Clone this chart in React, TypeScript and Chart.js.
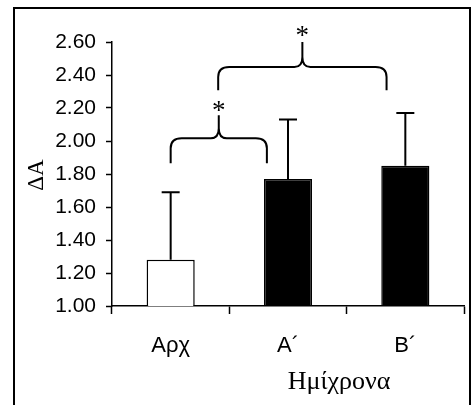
import React, { useEffect, useRef } from "react";
import { Chart, registerables } from "chart.js";

Chart.register(...registerables);

// ---- data ----
const categories = ["Αρχ", "Α´", "Β´"];
const means = [1.28, 1.77, 1.85];
const sds = [0.41, 0.36, 0.32];
const barFills = ["#ffffff", "#000000", "#000000"];
const yMin = 1.0;
const yMax = 2.6;
const yStep = 0.2;
const xTitle = "Ημίχρονα";
const yTitle = "ΔΑ";
// significance braces (category-index and value units)
const braceStart = [0, 0.405];
const braceEnd = [0.82, 1.84];
const braceFoot = [1.865, 2.307];
const braceBar = [2.016, 2.448];
const braceTip = [2.156, 2.6];
const braceMarkAt = [2.215, 2.665];
const braceMarks = ["*", "*"];

const overlayPlugin = {
  id: "overlay",
  afterDatasetsDraw(chart: any) {
    const ctx: CanvasRenderingContext2D = chart.ctx;
    const xs = chart.scales.x;
    const ys = chart.scales.y;
    const meta = chart.getDatasetMeta(0);
    ctx.save();
    ctx.strokeStyle = "#000";
    ctx.lineWidth = 2;
    // error bars
    meta.data.forEach((el: any, i: number) => {
      const x = el.x;
      const yTop = ys.getPixelForValue(means[i] + sds[i]);
      ctx.beginPath();
      ctx.moveTo(x, el.y);
      ctx.lineTo(x, yTop);
      ctx.moveTo(x - 9, yTop);
      ctx.lineTo(x + 9, yTop);
      ctx.stroke();
    });
    // braces
    const p0 = xs.getPixelForValue(0);
    const step = xs.getPixelForValue(1) - p0;
    const px = (v: number) => p0 + v * step;
    braceStart.forEach((s, i) => {
      const x0 = px(s);
      const x1 = px(braceEnd[i]);
      const xm = (x0 + x1) / 2;
      const yF = ys.getPixelForValue(braceFoot[i]);
      const yB = ys.getPixelForValue(braceBar[i]);
      const yT = ys.getPixelForValue(braceTip[i]);
      ctx.beginPath();
      ctx.moveTo(x0, yF);
      ctx.lineTo(x0, yB + 10);
      ctx.quadraticCurveTo(x0, yB, x0 + 11, yB);
      ctx.lineTo(xm - 8, yB);
      ctx.quadraticCurveTo(xm, yB, xm, yB - 10);
      ctx.lineTo(xm, yT);
      ctx.moveTo(xm, yB - 10);
      ctx.quadraticCurveTo(xm, yB, xm + 8, yB);
      ctx.lineTo(x1 - 11, yB);
      ctx.quadraticCurveTo(x1, yB, x1, yB + 10);
      ctx.lineTo(x1, yF);
      ctx.stroke();
      ctx.fillStyle = "#000";
      ctx.font = "27px 'Liberation Serif'";
      ctx.textAlign = "center";
      ctx.textBaseline = "middle";
      ctx.fillText(braceMarks[i], xm, ys.getPixelForValue(braceMarkAt[i]) + 6);
    });
    // axis titles
    ctx.fillStyle = "#000";
    ctx.font = "26px 'Liberation Serif'";
    ctx.textAlign = "center";
    ctx.textBaseline = "alphabetic";
    ctx.fillText(xTitle, 339, 389);
    ctx.save();
    ctx.translate(43, 175);
    ctx.rotate(-Math.PI / 2);
    ctx.font = "23px 'Liberation Serif'";
    ctx.fillText(yTitle, 0, 0);
    ctx.restore();
    // frame
    ctx.lineWidth = 2;
    ctx.beginPath();
    ctx.moveTo(14, 420);
    ctx.lineTo(14, 8);
    ctx.lineTo(470, 8);
    ctx.lineTo(470, 420);
    ctx.stroke();
    ctx.restore();
  },
};

export default function App() {
  const ref = useRef<HTMLCanvasElement | null>(null);
  useEffect(() => {
    if (!ref.current) return;
    const chart = new Chart(ref.current, {
      type: "bar",
      data: {
        labels: categories,
        datasets: [
          {
            data: means,
            backgroundColor: barFills,
            borderColor: "#000",
            borderWidth: 1.5,
            categoryPercentage: 1,
            barPercentage: 0.41,
          },
        ],
      },
      options: {
        animation: false,
        responsive: true,
        maintainAspectRatio: false,
        layout: { padding: { top: 42, right: 8, left: 0, bottom: 0 } },
        plugins: { legend: { display: false }, tooltip: { enabled: false } },
        scales: {
          x: {
            grid: {
              display: true,
              drawOnChartArea: false,
              drawTicks: true,
              tickLength: 8,
              tickWidth: 1.5,
              tickColor: "#000",
              offset: true,
            },
            border: { display: true, color: "#000", width: 1.5 },
            ticks: {
              color: "#000",
              font: { family: "'Liberation Sans'", size: 22 },
              padding: 19,
            },
            afterFit: (s: any) => {
              s.height = 99;
            },
          },
          y: {
            min: yMin,
            max: yMax,
            grid: {
              display: true,
              drawOnChartArea: false,
              drawTicks: true,
              tickLength: 6,
              tickWidth: 1.5,
              tickColor: "#000",
            },
            border: { display: true, color: "#000", width: 1.5 },
            ticks: {
              stepSize: yStep,
              color: "#000",
              font: { family: "'Liberation Sans'", size: 21 },
              padding: 10,
              callback: (v: any) => Number(v).toFixed(2),
            },
            afterFit: (s: any) => {
              s.width = 112;
            },
          },
        },
      },
      plugins: [overlayPlugin],
    });
    return () => chart.destroy();
  }, []);
  return (
    <div
      style={{
        position: "fixed",
        left: 0,
        top: 0,
        width: 472,
        height: 405,
        background: "#fff",
      }}
    >
      <canvas ref={ref} />
    </div>
  );
}
